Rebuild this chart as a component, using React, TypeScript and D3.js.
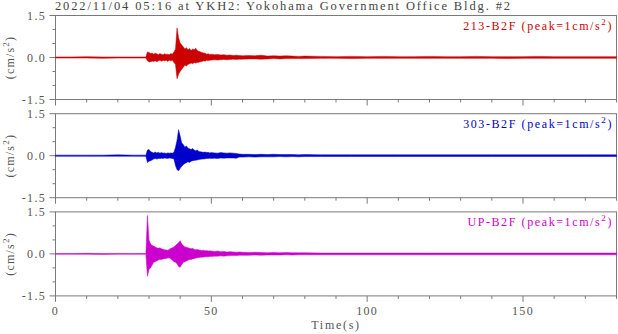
import React from "react";
import * as d3 from "d3";

// ---- data (envelope of each record) ----
const times = [
  0, 5, 10, 15, 20, 25, 29,
  29.5, 30, 30.5, 31, 31.5, 32, 32.5, 33, 33.5, 34, 34.5, 35, 35.5, 36, 36.5, 37, 37.5, 38,
  38.5, 39, 39.5, 40, 40.5, 41, 41.5, 42, 42.5, 43, 43.5, 44, 44.5, 45, 45.5, 46, 46.5, 47, 47.5, 48, 48.5, 49, 49.5, 50,
  51, 52, 53, 54, 55, 56, 57, 58, 59, 60,
  62, 64, 66, 68, 70, 72, 74, 76, 78, 80,
  85, 90, 95, 100, 105, 110, 115, 120, 125, 130, 135, 140, 145, 150, 155, 160, 165, 170, 175, 180,
];

const ns213Upper = [
  0.02, 0.02, 0.03, 0.02, 0.02, 0.02, 0.02,
  0.2, 0.18, 0.14, 0.16, 0.12, 0.15, 0.13, 0.1, 0.14, 0.12, 0.1, 0.13, 0.11, 0.12, 0.1, 0.14, 0.12, 0.2,
  0.3, 1.06, 0.7, 0.52, 0.45, 0.38, 0.3, 0.35, 0.28, 0.32, 0.25, 0.3, 0.28, 0.33, 0.25, 0.22, 0.2, 0.18, 0.16, 0.15, 0.12, 0.13, 0.11, 0.12,
  0.1, 0.11, 0.09, 0.1, 0.08, 0.09, 0.07, 0.08, 0.07, 0.06,
  0.07, 0.06, 0.08, 0.05, 0.06, 0.05, 0.06, 0.05, 0.04, 0.05,
  0.04, 0.03, 0.04, 0.03, 0.04, 0.03, 0.03, 0.04, 0.03, 0.03, 0.04, 0.03, 0.03, 0.03, 0.04, 0.03, 0.03, 0.03, 0.03, 0.03,
];
const ns213Lower = [
  -0.02, -0.02, -0.02, -0.03, -0.02, -0.02, -0.02,
  -0.12, -0.16, -0.15, -0.13, -0.14, -0.12, -0.15, -0.12, -0.1, -0.13, -0.11, -0.12, -0.1, -0.14, -0.1, -0.12, -0.1, -0.18,
  -0.25, -0.76, -0.6, -0.5, -0.42, -0.35, -0.28, -0.3, -0.25, -0.22, -0.2, -0.22, -0.18, -0.2, -0.18, -0.17, -0.15, -0.14, -0.12, -0.13, -0.1, -0.11, -0.1, -0.09,
  -0.08, -0.09, -0.08, -0.07, -0.08, -0.07, -0.06, -0.07, -0.06, -0.06,
  -0.05, -0.05, -0.06, -0.05, -0.04, -0.05, -0.04, -0.04, -0.04, -0.04,
  -0.03, -0.03, -0.04, -0.03, -0.03, -0.03, -0.03, -0.03, -0.03, -0.03, -0.03, -0.03, -0.04, -0.03, -0.03, -0.03, -0.03, -0.03, -0.03, -0.03,
];

const ns303Upper = [
  0.02, 0.02, 0.02, 0.02, 0.03, 0.02, 0.02,
  0.2, 0.22, 0.15, 0.12, 0.1, 0.13, 0.1, 0.12, 0.09, 0.11, 0.09, 0.1, 0.08, 0.1, 0.09, 0.1, 0.09, 0.12,
  0.3, 0.55, 0.93, 0.7, 0.45, 0.4, 0.3, 0.35, 0.27, 0.25, 0.22, 0.26, 0.2, 0.18, 0.2, 0.15, 0.14, 0.13, 0.12, 0.13, 0.11, 0.12, 0.1, 0.11,
  0.1, 0.09, 0.11, 0.1, 0.09, 0.1, 0.09, 0.08, 0.06, 0.05,
  0.05, 0.04, 0.05, 0.04, 0.05, 0.04, 0.04, 0.04, 0.03, 0.04,
  0.03, 0.03, 0.03, 0.03, 0.03, 0.03, 0.03, 0.03, 0.03, 0.03, 0.03, 0.03, 0.03, 0.03, 0.03, 0.03, 0.03, 0.03, 0.03, 0.03,
];
const ns303Lower = [
  -0.02, -0.02, -0.02, -0.02, -0.02, -0.02, -0.02,
  -0.24, -0.2, -0.18, -0.15, -0.12, -0.1, -0.12, -0.1, -0.1, -0.09, -0.1, -0.08, -0.09, -0.1, -0.08, -0.09, -0.1, -0.12,
  -0.35, -0.5, -0.54, -0.45, -0.38, -0.32, -0.28, -0.25, -0.22, -0.24, -0.2, -0.18, -0.17, -0.16, -0.15, -0.14, -0.13, -0.12, -0.12, -0.11, -0.1, -0.1, -0.09, -0.1,
  -0.09, -0.1, -0.08, -0.09, -0.08, -0.08, -0.08, -0.09, -0.05, -0.05,
  -0.04, -0.05, -0.04, -0.04, -0.04, -0.03, -0.04, -0.03, -0.04, -0.03,
  -0.03, -0.03, -0.03, -0.03, -0.03, -0.03, -0.03, -0.03, -0.03, -0.03, -0.03, -0.03, -0.03, -0.03, -0.03, -0.03, -0.03, -0.03, -0.03, -0.03,
];

const upUpper = [
  0.015, 0.015, 0.02, 0.015, 0.015, 0.015, 0.015,
  1.37, 0.5, 0.36, 0.3, 0.28, 0.25, 0.22, 0.2, 0.22, 0.18, 0.17, 0.15, 0.14, 0.13, 0.16, 0.2, 0.22, 0.25,
  0.3, 0.35, 0.4, 0.47, 0.35, 0.3, 0.25, 0.24, 0.22, 0.2, 0.18, 0.2, 0.16, 0.15, 0.16, 0.14, 0.13, 0.12, 0.13, 0.11, 0.12, 0.1, 0.11, 0.1,
  0.09, 0.1, 0.08, 0.09, 0.07, 0.08, 0.07, 0.06, 0.07, 0.06,
  0.05, 0.06, 0.05, 0.04, 0.05, 0.04, 0.05, 0.04, 0.04, 0.04,
  0.03, 0.03, 0.03, 0.03, 0.03, 0.03, 0.03, 0.03, 0.03, 0.03, 0.03, 0.03, 0.03, 0.03, 0.03, 0.03, 0.03, 0.03, 0.03, 0.03,
];
const upLower = [
  -0.015, -0.015, -0.015, -0.02, -0.015, -0.015, -0.015,
  -0.8, -0.55, -0.5, -0.4, -0.3, -0.28, -0.25, -0.22, -0.2, -0.2, -0.18, -0.17, -0.16, -0.15, -0.14, -0.18, -0.22, -0.28,
  -0.3, -0.35, -0.45, -0.48, -0.38, -0.3, -0.28, -0.25, -0.23, -0.2, -0.2, -0.18, -0.17, -0.15, -0.14, -0.13, -0.12, -0.12, -0.11, -0.1, -0.1, -0.1, -0.09, -0.09,
  -0.08, -0.08, -0.07, -0.08, -0.07, -0.06, -0.06, -0.06, -0.05, -0.05,
  -0.05, -0.04, -0.05, -0.04, -0.04, -0.04, -0.03, -0.04, -0.03, -0.03,
  -0.03, -0.03, -0.03, -0.03, -0.03, -0.03, -0.03, -0.03, -0.03, -0.03, -0.03, -0.03, -0.03, -0.03, -0.03, -0.03, -0.03, -0.03, -0.03, -0.03,
];

const seriesNames = ["213-B2F", "303-B2F", "UP-B2F"];
const seriesColors = ["#cc0000", "#0000cc", "#cc00cc"];
const uppers = [ns213Upper, ns303Upper, upUpper];
const lowers = [ns213Lower, ns303Lower, upLower];

const xTicksMajor = [0, 50, 100, 150];
const xTicksMinor = d3.range(0, 181, 10);
const yTicksMajor = [-1.5, 0, 1.5];
const yTickLabels = ["-1.5", "0.0", "1.5"];
const yTicksMinor = [-1.5, -1, -0.5, 0, 0.5, 1, 1.5];

const title = "2022/11/04 05:16 at YKH2: Yokohama Government Office Bldg. #2";

// ---- layout ----
const W = 618;
const H = 334;
const left = 55.5;
const right = 616.5;
const panelTops = [15.5, 113.7, 211.9];
const panelH = 84;
const font = "'Liberation Serif', 'Times New Roman', serif";
const axisColor = "#7a7a7a";
const textColor = "#555";

export default function App() {
  const x = d3.scaleLinear().domain([0, 180]).range([left, right]);

  return (
    <svg
      width={W}
      height={H}
      viewBox={`0 0 ${W} ${H}`}
      style={{ position: "absolute", left: 0, top: 0, background: "#fff" }}
      fontFamily={font}
    >
      <text x={55} y={10} fontSize={12.5} fill="#444" textLength={455} lengthAdjust="spacing">
        {title}
      </text>
      {seriesNames.map((name, k) => {
        const top = panelTops[k];
        const y = d3.scaleLinear().domain([-1.5, 1.5]).range([top + panelH, top]);
        const area = d3
          .area<number>()
          .x((t) => x(t))
          .y0((_, i) => y(lowers[k][i]))
          .y1((_, i) => y(uppers[k][i]));
        return (
          <g key={name}>
            <rect x={left} y={top} width={right - left} height={panelH} fill="none" stroke={axisColor} strokeWidth={1} />
            {xTicksMinor.map((t) => (
              <line
                key={"xt" + t}
                x1={x(t)}
                x2={x(t)}
                y1={top + panelH}
                y2={top + panelH + (xTicksMajor.includes(t) ? 6 : 3)}
                stroke={axisColor}
              />
            ))}
            {yTicksMinor.map((v) => (
              <line
                key={"yt" + v}
                x1={left}
                x2={left - (yTicksMajor.includes(v) ? 6 : 3)}
                y1={y(v)}
                y2={y(v)}
                stroke={axisColor}
              />
            ))}
            {yTicksMajor.map((v, i) => (
              <text key={"yl" + v} x={46} y={y(v) + 4.3} fontSize={12} fill={textColor} textAnchor="end" letterSpacing={1.3}>
                {yTickLabels[i]}
              </text>
            ))}
            <text
              transform={`translate(14, ${y(0)}) rotate(-90)`}
              fontSize={12}
              fill={textColor}
              textAnchor="middle"
              letterSpacing={1.2}
            >
              (cm/s<tspan dy={-5} fontSize={9}>2</tspan>
              <tspan dy={5}>)</tspan>
            </text>
            <path d={area(times) || ""} fill={seriesColors[k]} stroke={seriesColors[k]} strokeWidth={0.5} />
            <text x={613} y={top + 14.5} fontSize={12} fill={seriesColors[k]} textAnchor="end" letterSpacing={1.6}>
              {name} (peak=1cm/s<tspan dy={-5} fontSize={9}>2</tspan>
              <tspan dy={5}>)</tspan>
            </text>
          </g>
        );
      })}
      {xTicksMajor.map((t) => (
        <text
          key={"xl" + t}
          x={x(t)}
          y={315}
          fontSize={12}
          fill={textColor}
          textAnchor="middle"
          letterSpacing={1.3}
        >
          {t}
        </text>
      ))}
      <text x={(left + right) / 2} y={329} fontSize={12} fill={textColor} textAnchor="middle" letterSpacing={1.7}>
        Time(s)
      </text>
    </svg>
  );
}
